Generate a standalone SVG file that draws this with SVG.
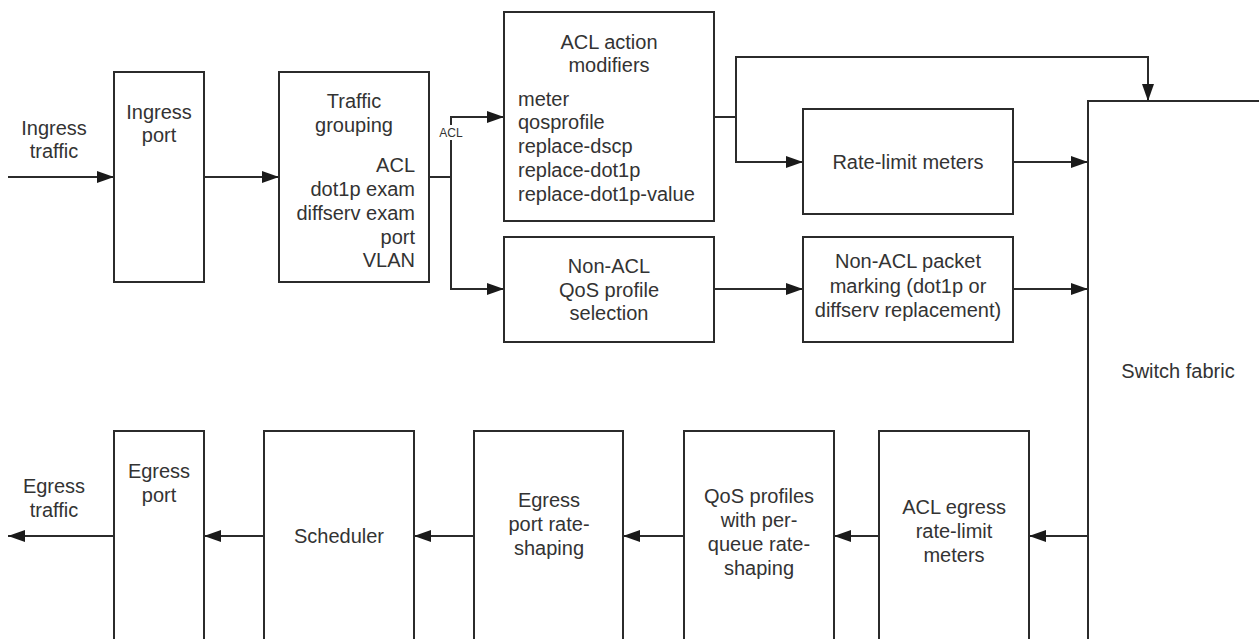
<svg xmlns="http://www.w3.org/2000/svg" width="1259" height="639" viewBox="0 0 1259 639">
<style>
.box{fill:#fff;stroke:#2b2b2b;stroke-width:2}
.ln{fill:none;stroke:#2b2b2b;stroke-width:2}
.arr{marker-end:url(#ah)}
text{font-family:"Liberation Sans",Arial,sans-serif;font-size:20px;fill:#333}
.c{text-anchor:middle}
.r{text-anchor:end}
.s{font-size:12px}
</style>
<defs>
<marker id="ah" markerUnits="userSpaceOnUse" markerWidth="18" markerHeight="12" refX="17" refY="6" orient="auto">
<path d="M0,0 L17,6 L0,12 z" fill="#1a1a1a"/>
</marker>
</defs>
<rect width="1259" height="639" fill="#fff"/>
<g id="connectors">
<path class="ln arr" d="M8,177 H114"/>
<path class="ln arr" d="M204,177 H279"/>
<path class="ln" d="M429,177 H451"/>
<path class="ln arr" d="M451,125 V117 H504"/>
<path class="ln arr" d="M451,140 V289 H504"/>
<text class="s c" x="451" y="137">ACL</text>
<path class="ln" d="M714,117 H736"/>
<path class="ln arr" d="M736,117 V57 H1148 V101"/>
<path class="ln arr" d="M736,117 V162 H803"/>
<path class="ln arr" d="M1013,162 H1088"/>
<path class="ln arr" d="M714,289 H803"/>
<path class="ln arr" d="M1013,289 H1088"/>
<path class="ln arr" d="M1088,536 H1029"/>
<path class="ln arr" d="M879,536 H834"/>
<path class="ln arr" d="M684,536 H623"/>
<path class="ln arr" d="M474,536 H414"/>
<path class="ln arr" d="M264,536 H204"/>
<path class="ln arr" d="M114,536 H8"/>
</g>
<g id="ingress-traffic">
<text class="c" x="54" y="135">Ingress</text>
<text class="c" x="54" y="158">traffic</text>
</g>
<g id="ingress-port">
<rect class="box" x="114" y="72" width="90" height="210"/>
<text class="c" x="159" y="119">Ingress</text>
<text class="c" x="159" y="142">port</text>
</g>
<g id="traffic-grouping">
<rect class="box" x="279" y="72" width="150" height="210"/>
<text class="c" x="354" y="108">Traffic</text>
<text class="c" x="354" y="132">grouping</text>
<text class="r" x="415" y="172">ACL</text>
<text class="r" x="415" y="196">dot1p exam</text>
<text class="r" x="415" y="220">diffserv exam</text>
<text class="r" x="415" y="244">port</text>
<text class="r" x="415" y="267">VLAN</text>
</g>
<g id="acl-action-modifiers">
<rect class="box" x="504" y="12" width="210" height="209"/>
<text class="c" x="609" y="49">ACL action</text>
<text class="c" x="609" y="72">modifiers</text>
<text x="518" y="106">meter</text>
<text x="518" y="129">qosprofile</text>
<text x="518" y="153">replace-dscp</text>
<text x="518" y="177">replace-dot1p</text>
<text x="518" y="201">replace-dot1p-value</text>
</g>
<g id="rate-limit-meters">
<rect class="box" x="803" y="109" width="210" height="105"/>
<text class="c" x="908" y="169">Rate-limit meters</text>
</g>
<g id="non-acl-qos">
<rect class="box" x="504" y="237" width="210" height="105"/>
<text class="c" x="609" y="273">Non-ACL</text>
<text class="c" x="609" y="297">QoS profile</text>
<text class="c" x="609" y="320">selection</text>
</g>
<g id="non-acl-marking">
<rect class="box" x="803" y="237" width="210" height="105"/>
<text class="c" x="908" y="268">Non-ACL packet</text>
<text class="c" x="908" y="293">marking (dot1p or</text>
<text class="c" x="908" y="317">diffserv replacement)</text>
</g>
<g id="switch-fabric">
<rect class="box" x="1088" y="101" width="190" height="560"/>
<text class="c" x="1178" y="378">Switch fabric</text>
</g>
<g id="acl-egress">
<rect class="box" x="879" y="431" width="150" height="230"/>
<text class="c" x="954" y="514">ACL egress</text>
<text class="c" x="954" y="538">rate-limit</text>
<text class="c" x="954" y="562">meters</text>
</g>
<g id="qos-profiles">
<rect class="box" x="684" y="431" width="150" height="230"/>
<text class="c" x="759" y="503">QoS profiles</text>
<text class="c" x="759" y="527">with per-</text>
<text class="c" x="759" y="551">queue rate-</text>
<text class="c" x="759" y="575">shaping</text>
</g>
<g id="egress-rate-shaping">
<rect class="box" x="474" y="431" width="149" height="230"/>
<text class="c" x="549" y="507">Egress</text>
<text class="c" x="549" y="531">port rate-</text>
<text class="c" x="549" y="555">shaping</text>
</g>
<g id="scheduler">
<rect class="box" x="264" y="431" width="150" height="230"/>
<text class="c" x="339" y="543">Scheduler</text>
</g>
<g id="egress-port">
<rect class="box" x="114" y="431" width="90" height="230"/>
<text class="c" x="159" y="478">Egress</text>
<text class="c" x="159" y="502">port</text>
</g>
<g id="egress-traffic">
<text class="c" x="54" y="493">Egress</text>
<text class="c" x="54" y="517">traffic</text>
</g>
</svg>
